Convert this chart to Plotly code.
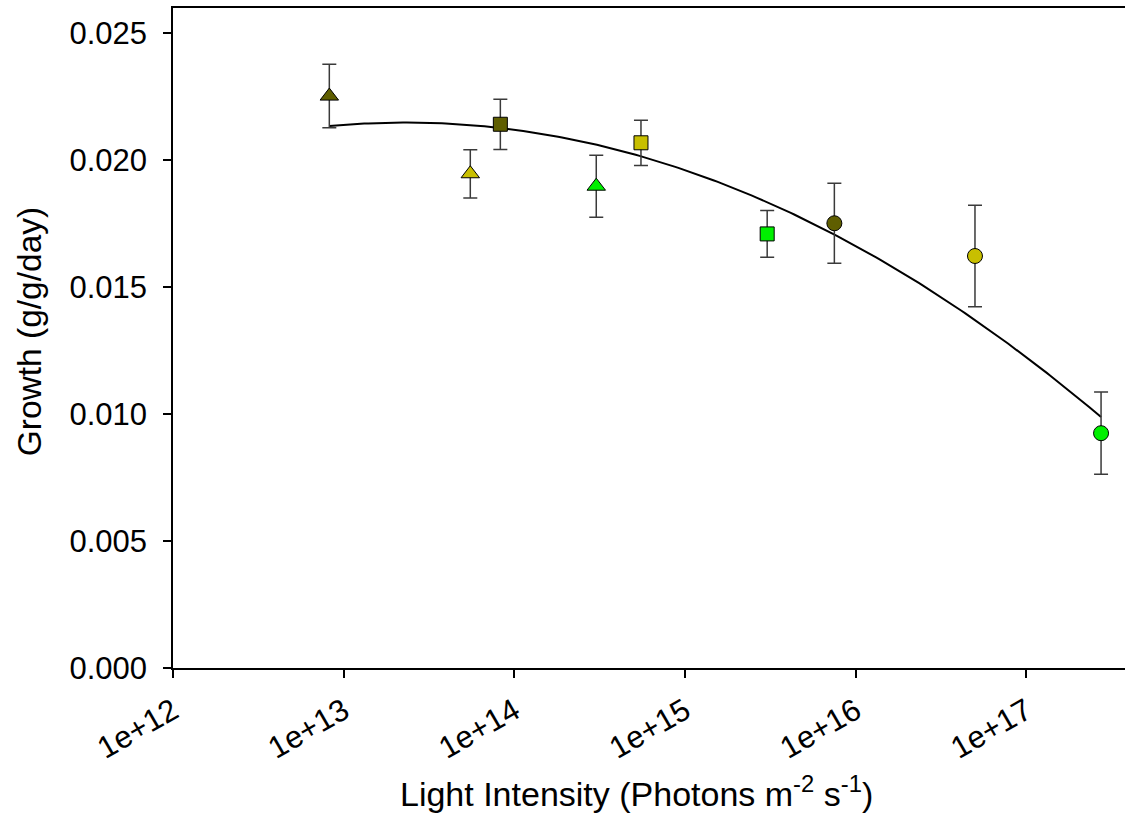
import numpy as np
import plotly.graph_objects as go

# ---- data ----
light = [8.24e12, 5.52e13, 8.28e13, 3.02e14, 5.52e14, 3.03e15, 7.50e15, 5.0e16, 2.74e17]
growth = [0.02253, 0.01947, 0.02142, 0.01898, 0.02069, 0.01710, 0.01752, 0.01623, 0.00925]
growth_err = [0.00125, 0.00095, 0.00099, 0.00122, 0.00089, 0.00092, 0.00158, 0.00200, 0.00162]
symbols = ["triangle-up", "triangle-up", "square", "triangle-up", "square",
           "square", "circle", "circle", "circle"]
groups = ["dark", "yellow", "dark", "green", "yellow", "green", "dark", "yellow", "green"]

# quadratic regression in log10(light), centred form: y = a + b*t + c*t^2, t = log10(x) - centre
fit_centre = 15.032
fit_coef = [0.01954, -0.002333, -0.0006987]

x_tickvals = [1e12, 1e13, 1e14, 1e15, 1e16, 1e17]
x_ticktext = ["1e+12", "1e+13", "1e+14", "1e+15", "1e+16", "1e+17"]

palette = {"dark": "#5f5e00", "yellow": "#c8bf00", "green": "#00f000"}
colors = [palette[g] for g in groups]
size_by_symbol = {"triangle-up": 16, "square": 14, "circle": 15}
sizes = [size_by_symbol[s] for s in symbols]

# fitted curve over the data range
u = np.linspace(np.log10(min(light)), np.log10(max(light)), 200)
t = u - fit_centre
fit_y = fit_coef[0] + fit_coef[1] * t + fit_coef[2] * t ** 2
fit_x = 10 ** u

FONT = "Liberation Sans, Arial, sans-serif"

fig = go.Figure()
fig.add_trace(go.Scatter(
    x=fit_x, y=fit_y, mode="lines",
    line=dict(color="black", width=2), hoverinfo="skip", showlegend=False,
))
fig.add_trace(go.Scatter(
    x=light, y=growth, mode="markers",
    marker=dict(symbol=symbols, color=colors, size=sizes, opacity=1,
                line=dict(color="black", width=1)),
    error_y=dict(type="data", array=growth_err, visible=True,
                 color="#3a3a3a", thickness=1.5, width=7),
    showlegend=False,
))

fig.update_layout(
    width=1125, height=833,
    margin=dict(l=173, r=0, t=8, b=165),
    paper_bgcolor="white", plot_bgcolor="white",
    font=dict(family=FONT, size=31, color="black"),
    xaxis=dict(
        type="log", range=[12, 17.578],
        tickvals=x_tickvals, ticktext=x_ticktext, tickangle=-30,
        ticks="outside", ticklen=8, tickwidth=1.5, tickcolor="black",
        showline=True, linecolor="black", linewidth=1.5, mirror=True,
        showgrid=False, zeroline=False,
        tickfont=dict(size=31), ticklabelstandoff=3,
    ),
    yaxis=dict(
        range=[0, 0.026], tick0=0, dtick=0.005, tickformat=".3f",
        ticks="outside", ticklen=8, tickwidth=1.5, tickcolor="black",
        showline=True, linecolor="black", linewidth=1.5, mirror=False,
        showgrid=False, zeroline=False,
        tickfont=dict(size=31), ticklabelstandoff=10,
    ),
    annotations=[
        dict(text="Light Intensity (Photons m<sup>-2</sup> s<sup>-1</sup>)",
             xref="paper", yref="paper", x=0.487, y=-0.187,
             xanchor="center", yanchor="middle", showarrow=False,
             font=dict(size=34, family=FONT)),
        dict(text="Growth (g/g/day)",
             xref="paper", yref="paper", x=-0.151, y=0.509, textangle=-90,
             xanchor="center", yanchor="middle", showarrow=False,
             font=dict(size=33.5, family=FONT)),
    ],
)

fig.write_html("out.html")
